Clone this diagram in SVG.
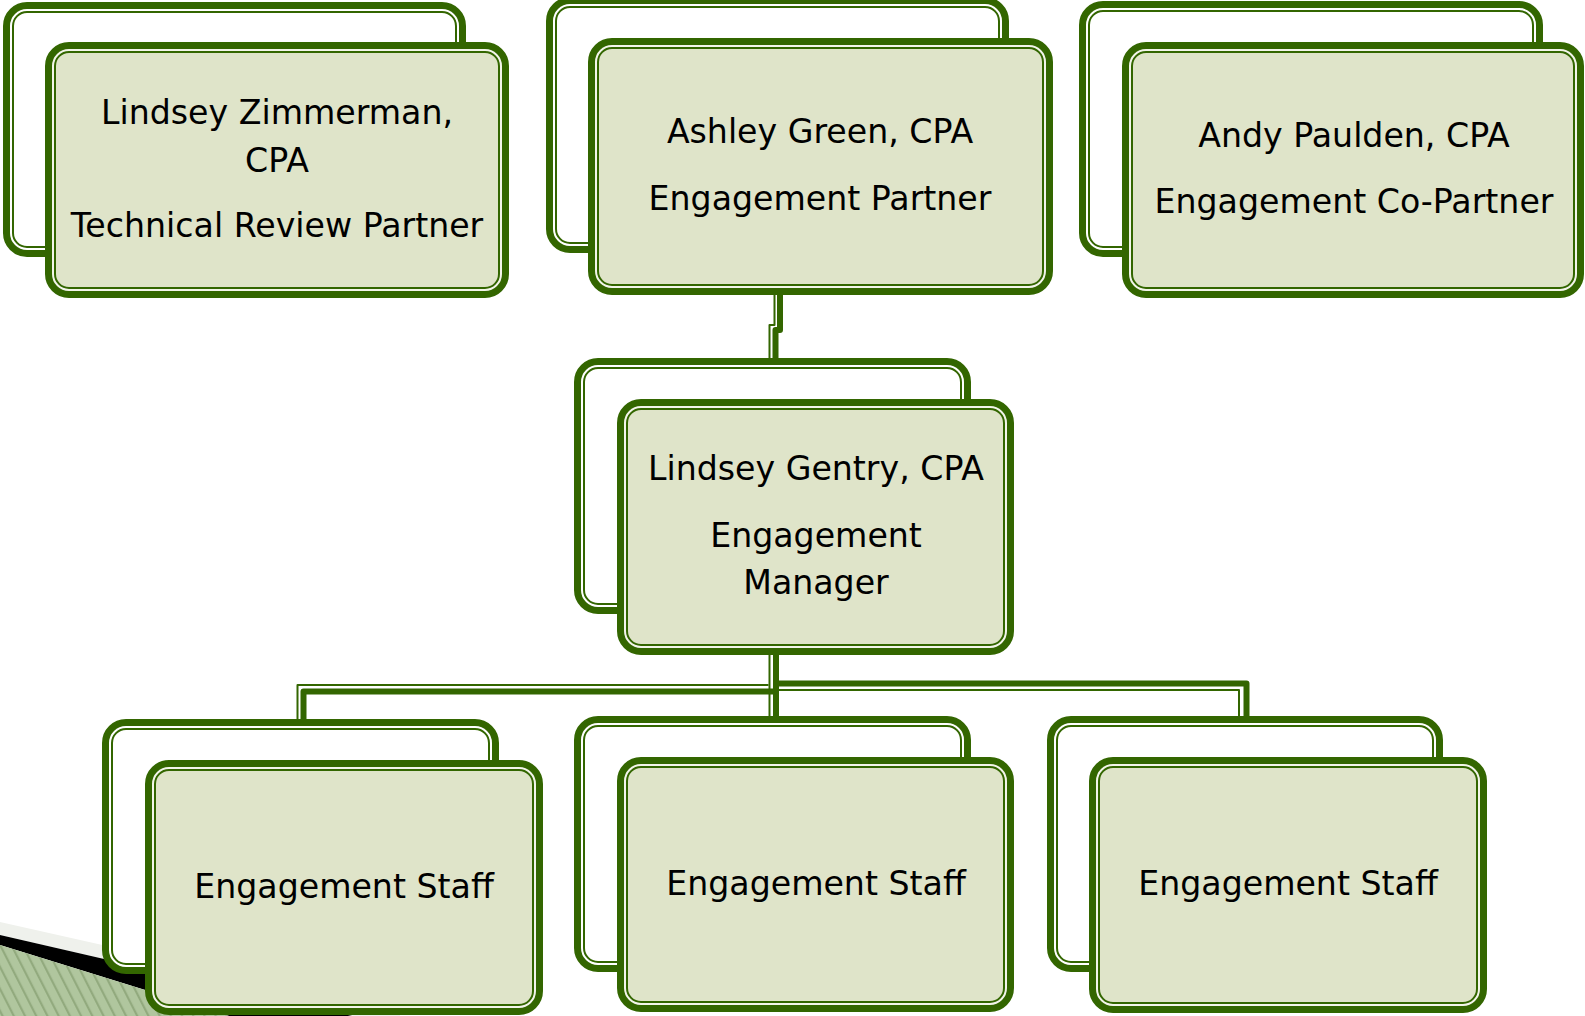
<svg xmlns="http://www.w3.org/2000/svg" width="1585" height="1016" viewBox="0 0 1585 1016">
<defs>
<pattern id="hatch" patternUnits="userSpaceOnUse" width="10" height="10" patternTransform="rotate(-27)">
<rect width="10" height="10" fill="#b0c69e"/>
<rect x="0" y="0" width="2.2" height="10" fill="#92aa7e"/>
</pattern>
<style>
.o{stroke:#336600;stroke-width:11}
.bk .o{fill:#ffffff}
.fr .o{fill:#dfe4c9}
.gp{fill:none;stroke:#ffffff;stroke-width:2}
.fr .gp{stroke:#f3f5ea}
text{font-family:"DejaVu Sans","Liberation Sans",sans-serif;font-size:33.2px;fill:#000;text-anchor:middle}
.ck{fill:none;stroke:#336600;stroke-width:6;stroke-linejoin:round}
.cn{fill:none;stroke:#336600;stroke-width:2;stroke-linejoin:round}
</style>
</defs>
<rect width="1585" height="1016" fill="#ffffff"/>
<g id="decoration">
<polygon points="0,922 400,1012 400,1027 0,935" fill="#eff1ec"/>
<polygon points="0,935 400,1027 400,1069 0,945" fill="#000000"/>
<polygon points="0,945 400,1069 0,1069" fill="url(#hatch)"/>
</g>
<g id="connectors">
<path class="ck" d="M780 290 V330 H775.5 V362"/>
<path class="cn" d="M774.5 290 V325 H769.5 V362"/>
<path class="ck" d="M776 655 V720"/>
<path class="cn" d="M769.5 655 V720"/>
<path class="ck" d="M773 691.5 H303.5 V723"/>
<path class="cn" d="M768.5 685 H297.5 V723"/>
<path class="ck" d="M779 683.5 H1246.5 V720"/>
<path class="cn" d="M779 690 H1239 V720"/>
</g>
<g id="node-zimmerman">
<g class="bk"><rect class="o" x="8.5" y="7.5" width="452" height="244" rx="18.5"/><rect class="gp" x="11" y="10" width="447" height="239" rx="16"/></g>
<g class="fr"><rect class="o" x="50.5" y="47.5" width="453" height="245" rx="18.5"/><rect class="gp" x="53" y="50" width="448" height="240" rx="16"/></g>
<text x="277" y="124">Lindsey Zimmerman,</text>
<text x="277" y="172">CPA</text>
<text x="277" y="237">Technical Review Partner</text>
</g>
<g id="node-green">
<g class="bk"><rect class="o" x="551.5" y="2.5" width="452" height="245" rx="18.5"/><rect class="gp" x="554" y="5" width="447" height="240" rx="16"/></g>
<g class="fr"><rect class="o" x="593.5" y="43.5" width="454" height="246" rx="18.5"/><rect class="gp" x="596" y="46" width="449" height="241" rx="16"/></g>
<text x="820" y="143">Ashley Green, CPA</text>
<text x="820" y="210">Engagement Partner</text>
</g>
<g id="node-paulden">
<g class="bk"><rect class="o" x="1084.5" y="6.5" width="453" height="245" rx="18.5"/><rect class="gp" x="1087" y="9" width="448" height="240" rx="16"/></g>
<g class="fr"><rect class="o" x="1127.5" y="47.5" width="451" height="245" rx="18.5"/><rect class="gp" x="1130" y="50" width="446" height="240" rx="16"/></g>
<text x="1354" y="147">Andy Paulden, CPA</text>
<text x="1354" y="213">Engagement Co-Partner</text>
</g>
<g id="node-gentry">
<g class="bk"><rect class="o" x="579.5" y="363.5" width="386" height="245" rx="18.5"/><rect class="gp" x="582" y="366" width="381" height="240" rx="16"/></g>
<g class="fr"><rect class="o" x="622.5" y="404.5" width="386" height="245" rx="18.5"/><rect class="gp" x="625" y="407" width="381" height="240" rx="16"/></g>
<text x="816" y="480">Lindsey Gentry, CPA</text>
<text x="816" y="547">Engagement</text>
<text x="816" y="594">Manager</text>
</g>
<g id="node-staff-1">
<g class="bk"><rect class="o" x="107.5" y="724.5" width="386" height="244" rx="18.5"/><rect class="gp" x="110" y="727" width="381" height="239" rx="16"/></g>
<g class="fr"><rect class="o" x="150.5" y="765.5" width="387" height="244" rx="18.5"/><rect class="gp" x="153" y="768" width="382" height="239" rx="16"/></g>
<text x="344" y="898">Engagement Staff</text>
</g>
<g id="node-staff-2">
<g class="bk"><rect class="o" x="579.5" y="721.5" width="386" height="245" rx="18.5"/><rect class="gp" x="582" y="724" width="381" height="240" rx="16"/></g>
<g class="fr"><rect class="o" x="622.5" y="762.5" width="386" height="244" rx="18.5"/><rect class="gp" x="625" y="765" width="381" height="239" rx="16"/></g>
<text x="816" y="895">Engagement Staff</text>
</g>
<g id="node-staff-3">
<g class="bk"><rect class="o" x="1052.5" y="721.5" width="385" height="245" rx="18.5"/><rect class="gp" x="1055" y="724" width="380" height="240" rx="16"/></g>
<g class="fr"><rect class="o" x="1094.5" y="762.5" width="387" height="245" rx="18.5"/><rect class="gp" x="1097" y="765" width="382" height="240" rx="16"/></g>
<text x="1288" y="895">Engagement Staff</text>
</g>
</svg>
